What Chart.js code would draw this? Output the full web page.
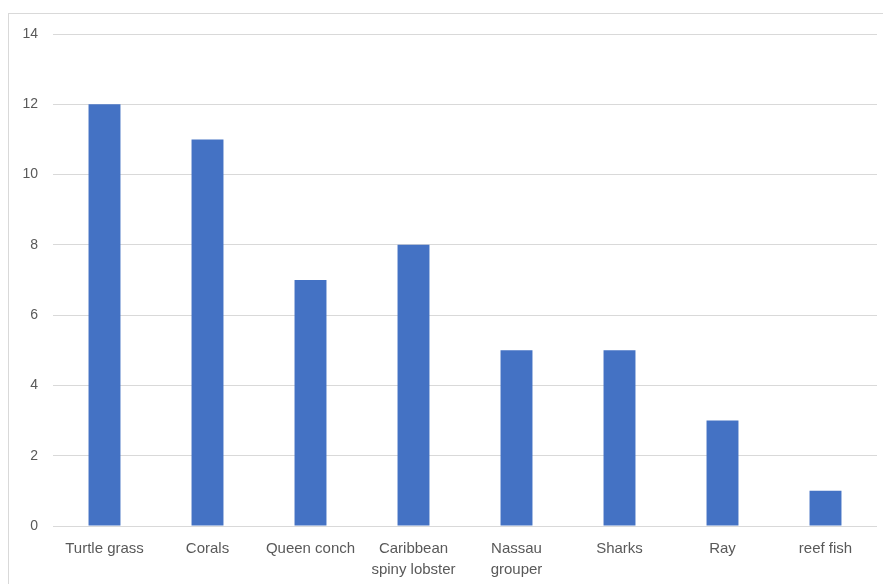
<!DOCTYPE html>
<html>
<head>
<meta charset="utf-8">
<script src="https://cdn.jsdelivr.net/npm/chart.js@4.4.0/dist/chart.umd.min.js"></script>
<style>
    body { margin: 0; background: #fff; }
    #wrap { position: relative; width: 883px; height: 584px; overflow: hidden; }
    #frame { position: absolute; left: 8px; top: 13px; width: 2000px; height: 2000px;
             border-top: 1px solid #d9d9d9; border-left: 1px solid #d9d9d9; }
    #chart { position: absolute; left: 0; top: 0; }
</style>
</head>
<body>
<div id="wrap">
    <div id="frame"></div>
    <canvas id="chart" width="883" height="584"></canvas>
</div>
<script>
// Kategorien und Werte
var categories = ['Turtle grass', 'Corals', 'Queen conch', ['Caribbean', 'spiny lobster'],
                  ['Nassau', 'grouper'], 'Sharks', 'Ray', 'reef fish'];
var values = [12, 11, 7, 8, 5, 5, 3, 1];
var yTicks = [0, 2, 4, 6, 8, 10, 12, 14];

var ctx = document.getElementById('chart');
var chart = new Chart(ctx, {
    type: 'bar',
    data: {
        labels: categories,
        datasets: [{
            data: values,
            backgroundColor: '#4472C4',
            borderWidth: 0,
            barPercentage: 0.31,
            categoryPercentage: 1.0
        }]
    },
    options: {
        responsive: false,
        animation: false,
        layout: { padding: { left: 0, right: 6, top: 34, bottom: 0 } },
        plugins: { legend: { display: false }, tooltip: { enabled: false } },
        scales: {
            x: {
                grid: { display: false, drawTicks: false },
                border: { display: false },
                ticks: {
                    color: '#595959',
                    font: { family: 'Liberation Sans', size: 15, lineHeight: 1.4 },
                    padding: 12,
                    maxRotation: 0,
                    autoSkip: false
                },
                afterFit: function(scale) { scale.height = 58; }
            },
            y: {
                min: 0,
                max: 14,
                afterBuildTicks: function(scale) {
                    scale.ticks = yTicks.map(function(v) { return {value: v}; });
                },
                grid: { color: '#d9d9d9', lineWidth: 1, drawTicks: false },
                border: { display: false },
                ticks: {
                    color: '#595959',
                    font: { family: 'Liberation Sans', size: 14 },
                    padding: 15
                },
                afterFit: function(scale) { scale.width = 53; }
            }
        }
    }
});
</script>
</body>
</html>
